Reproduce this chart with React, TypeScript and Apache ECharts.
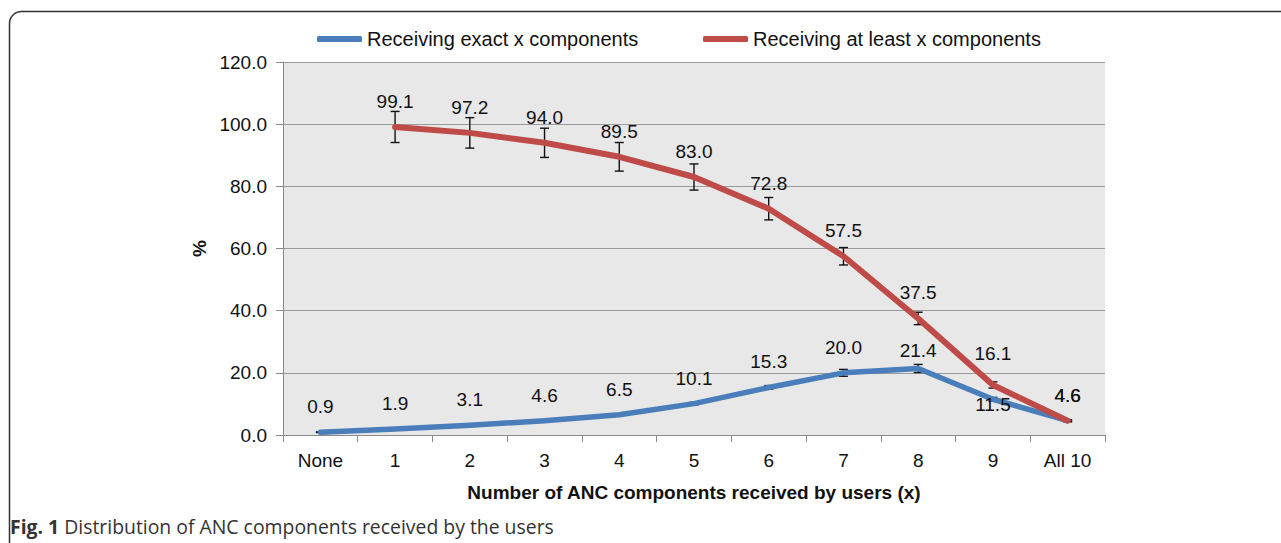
import React, { useEffect, useRef } from "react";
import * as echarts from "echarts";

const categories = ["None", "1", "2", "3", "4", "5", "6", "7", "8", "9", "All 10"];
const exactValues = [0.9, 1.9, 3.1, 4.6, 6.5, 10.1, 15.3, 20.0, 21.4, 11.5, 4.6];
const atLeastValues: (number | null)[] = [null, 99.1, 97.2, 94.0, 89.5, 83.0, 72.8, 57.5, 37.5, 16.1, 4.6];
const exactErrors = [0.1, 0.1, 0.2, 0.2, 0.3, 0.4, 0.6, 1.1, 1.3, 0.6, 0.3];
const atLeastErrors: (number | null)[] = [null, 5.0, 4.9, 4.7, 4.6, 4.2, 3.6, 2.8, 2.0, 1.0, 0.3];
const yTicks = [0, 20, 40, 60, 80, 100, 120];

const FONT = "'Liberation Sans', Arial, Helvetica, sans-serif";
const BLUE = "#4A7EBB";
const RED = "#BE4B48";

export default function App() {
  const ref = useRef<HTMLDivElement>(null);
  useEffect(() => {
    if (!ref.current) return;
    const chart = echarts.init(ref.current, null, { renderer: "svg" });

    const errData = (vals: (number | null)[], errs: (number | null)[]) =>
      vals
        .map((v, i) => (v == null || errs[i] == null ? null : [i, v - (errs[i] as number), v + (errs[i] as number)]))
        .filter((d) => d != null);

    const renderErr = (params: any, api: any) => {
      const i = api.value(0);
      const lo = api.coord([i, api.value(1)]);
      const hi = api.coord([i, api.value(2)]);
      const hw = 4.5;
      const st = { stroke: "#111", lineWidth: 1.4 };
      return {
        type: "group",
        children: [
          { type: "line", shape: { x1: lo[0], y1: lo[1], x2: hi[0], y2: hi[1] }, style: st },
          { type: "line", shape: { x1: lo[0] - hw, y1: lo[1], x2: lo[0] + hw, y2: lo[1] }, style: st },
          { type: "line", shape: { x1: hi[0] - hw, y1: hi[1], x2: hi[0] + hw, y2: hi[1] }, style: st },
        ],
      };
    };

    const exactData = exactValues.map((v, i) =>
      i === 9
        ? { value: v, label: { position: "bottom", distance: -5 } }
        : i === 8
        ? { value: v, label: { distance: 7 } }
        : v
    );
    const atLeastData = atLeastValues.map((v, i) =>
      i === 9 ? { value: v, label: { distance: 21 } } : v
    );

    const labelCfg = {
      show: true,
      position: "top",
      distance: 15,
      fontFamily: FONT,
      fontSize: 19,
      color: "#111",
      opacity: 1,
      formatter: (p: any) => (p.value == null ? "" : Number(p.value).toFixed(1)),
    };

    const legendText = { fontFamily: FONT, fontSize: 20, color: "#111" };

    chart.setOption({
      animation: false,
      backgroundColor: "#fff",
      textStyle: { fontFamily: FONT },
      grid: {
        left: 283,
        right: 176,
        top: 62,
        bottom: 108,
        show: true,
        backgroundColor: "#E8E8E8",
        borderWidth: 0,
      },
      legend: [
        {
          data: ["Receiving exact x components"],
          left: 317,
          top: 29,
          padding: 0,
          icon: "roundRect",
          itemWidth: 45,
          itemHeight: 6,
          textStyle: legendText,
        },
        {
          data: ["Receiving at least x components"],
          left: 703,
          top: 29,
          padding: 0,
          icon: "roundRect",
          itemWidth: 45,
          itemHeight: 6,
          textStyle: legendText,
        },
      ],
      xAxis: {
        type: "category",
        data: categories,
        boundaryGap: true,
        axisLine: { show: true, lineStyle: { color: "#8a8a8a", width: 1 } },
        axisTick: { show: true, length: 7, alignWithLabel: false, lineStyle: { color: "#8a8a8a" } },
        axisLabel: { fontFamily: FONT, fontSize: 19, color: "#111", margin: 16 },
        name: "Number of ANC components received by users (x)",
        nameLocation: "middle",
        nameGap: 48,
        nameTextStyle: { fontFamily: FONT, fontSize: 19, fontWeight: "bold", color: "#111" },
      },
      yAxis: {
        type: "value",
        min: yTicks[0],
        max: yTicks[yTicks.length - 1],
        interval: 20,
        axisLine: { show: true, lineStyle: { color: "#8a8a8a", width: 1 } },
        axisTick: { show: true, length: 7, lineStyle: { color: "#8a8a8a" } },
        axisLabel: {
          fontFamily: FONT,
          fontSize: 19,
          color: "#111",
          margin: 16,
          formatter: (v: number) => v.toFixed(1),
        },
        splitLine: { show: true, lineStyle: { color: "#9a9a9a", width: 1 } },
        name: "%",
        nameLocation: "middle",
        nameRotate: 90,
        nameGap: 63,
        nameTextStyle: { fontFamily: FONT, fontSize: 19, fontWeight: "bold", color: "#111" },
      },
      series: [
        {
          type: "custom",
          name: "errExact",
          data: errData(exactValues, exactErrors),
          renderItem: renderErr,
          z: 2,
          silent: true,
        },
        {
          type: "custom",
          name: "errAtLeast",
          data: errData(atLeastValues, atLeastErrors),
          renderItem: renderErr,
          z: 2,
          silent: true,
        },
        {
          name: "Receiving exact x components",
          type: "line",
          data: exactData,
          symbol: "circle",
          symbolSize: 2,
          showSymbol: true,
          showAllSymbol: true,
          lineStyle: { color: BLUE, width: 5.5, cap: "round", join: "round" },
          itemStyle: { color: BLUE },
          label: labelCfg,
          z: 3,
        },
        {
          name: "Receiving at least x components",
          type: "line",
          data: atLeastData,
          symbol: "circle",
          symbolSize: 2,
          showSymbol: true,
          showAllSymbol: true,
          connectNulls: false,
          lineStyle: { color: RED, width: 6, cap: "round", join: "round" },
          itemStyle: { color: RED },
          label: labelCfg,
          z: 4,
        },
      ],
      graphic: [
        {
          type: "rect",
          shape: { x: 9.5, y: 11.5, width: 1400, height: 700, r: 12 },
          style: { fill: "none", stroke: "#333", lineWidth: 1.5 },
          silent: true,
        },
        {
          type: "text",
          x: 10,
          y: 526,
          style: {
            text: "{b|Fig. 1} Distribution of ANC components received by the users",
            fontFamily: "'Open Sans', 'Noto Sans', sans-serif",
            fontSize: 19.4,
            fill: "#333",
            verticalAlign: "middle",
            rich: {
              b: {
                fontFamily: "'Open Sans', 'Noto Sans', sans-serif",
                fontSize: 19.4,
                fontWeight: "bold",
                fill: "#333",
              },
            },
          },
        },
      ],
    });
    return () => chart.dispose();
  }, []);

  return (
    <div
      ref={ref}
      style={{ position: "fixed", left: 0, top: 0, width: 1281, height: 543 }}
    />
  );
}
